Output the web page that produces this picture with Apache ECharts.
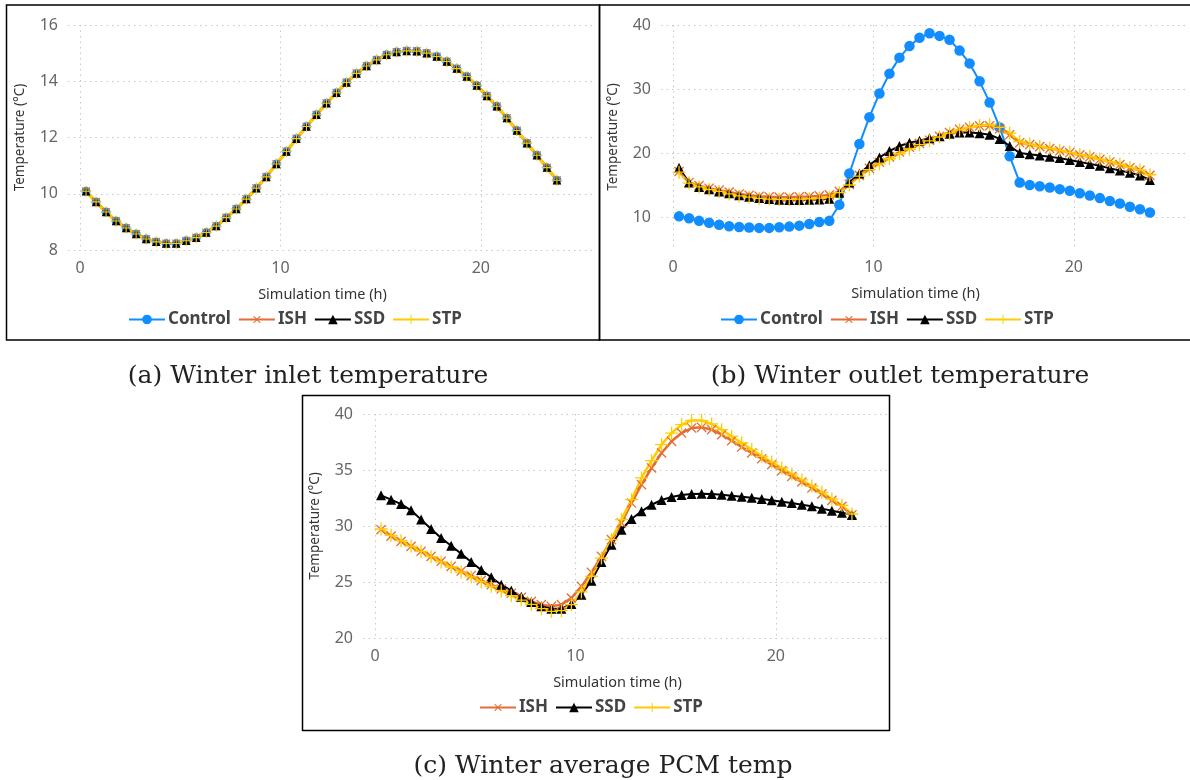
<!DOCTYPE html>
<html>
<head>
<meta charset="utf-8">
<title>Winter temperatures</title>
<script src="https://cdn.jsdelivr.net/npm/echarts@6/dist/echarts.min.js"></script>
<style>
  html, body { margin: 0; padding: 0; background: #fff; }
  #chart { width: 1190px; height: 780px; }
</style>
</head>
<body>
<div id="chart"></div>
<script>
// Simulation time stamps (h), one sample every half hour
const hours = [0.3, 0.8, 1.3, 1.8, 2.3, 2.8, 3.3, 3.8, 4.3, 4.8, 5.3, 5.8,
  6.3, 6.8, 7.3, 7.8, 8.3, 8.8, 9.3, 9.8, 10.3, 10.8, 11.3, 11.8,
  12.3, 12.8, 13.3, 13.8, 14.3, 14.8, 15.3, 15.8, 16.3, 16.8, 17.3, 17.8,
  18.3, 18.8, 19.3, 19.8, 20.3, 20.8, 21.3, 21.8, 22.3, 22.8, 23.3, 23.8];

// (a) inlet temperature — identical for all four cases
const inletTemp = [10.09, 9.71, 9.35, 9.03, 8.78, 8.57, 8.39, 8.29, 8.23, 8.23, 8.33, 8.44,
  8.62, 8.85, 9.15, 9.46, 9.81, 10.20, 10.60, 11.06, 11.50, 11.96, 12.39, 12.81,
  13.22, 13.59, 13.96, 14.28, 14.54, 14.76, 14.94, 15.04, 15.08, 15.07, 15.00, 14.88,
  14.70, 14.45, 14.17, 13.85, 13.48, 13.11, 12.69, 12.25, 11.80, 11.37, 10.93, 10.48];

// (b) outlet temperature
const outletControl = [10.1, 9.8, 9.4, 9.1, 8.8, 8.55, 8.45, 8.35, 8.3, 8.3, 8.4, 8.5,
  8.65, 8.9, 9.2, 9.4, 11.9, 16.8, 21.4, 25.6, 29.3, 32.4, 34.9, 36.7,
  38.0, 38.7, 38.3, 37.7, 36.0, 34.0, 31.2, 27.9, 24.0, 19.5, 15.4, 15.0,
  14.8, 14.6, 14.35, 14.1, 13.7, 13.35, 12.95, 12.5, 12.1, 11.6, 11.2, 10.7];
const outletISH = [17.1, 15.4, 14.9, 14.5, 14.2, 13.9, 13.6, 13.4, 13.25, 13.15, 13.1, 13.1,
  13.15, 13.2, 13.3, 13.45, 14.0, 15.1, 16.5, 17.6, 18.55, 19.4, 20.15, 20.9,
  21.5, 22.0, 22.6, 23.2, 23.7, 24.0, 24.25, 24.25, 23.8, 22.85, 21.6, 21.3,
  21.0, 20.7, 20.35, 20.05, 19.7, 19.4, 19.0, 18.6, 18.2, 17.7, 17.3, 16.5];
const outletSSD = [17.7, 15.4, 14.7, 14.35, 14.0, 13.7, 13.4, 13.15, 12.95, 12.8, 12.7, 12.65,
  12.65, 12.7, 12.75, 12.85, 13.8, 15.4, 16.8, 18.1, 19.3, 20.3, 21.1, 21.6,
  21.9, 22.3, 22.6, 23.0, 23.2, 23.2, 23.1, 22.85, 22.2, 21.1, 20.0, 19.8,
  19.6, 19.4, 19.2, 18.9, 18.6, 18.3, 18.0, 17.6, 17.25, 16.9, 16.5, 15.8];
const outletSTP = [17.0, 15.3, 14.7, 14.3, 14.0, 13.6, 13.3, 13.1, 12.9, 12.8, 12.75, 12.75,
  12.8, 12.85, 12.95, 13.1, 13.8, 15.0, 16.4, 17.4, 18.3, 19.1, 19.9, 20.6,
  21.3, 21.9, 22.5, 23.1, 23.6, 24.0, 24.3, 24.4, 24.0, 23.1, 21.8, 21.4,
  21.05, 20.75, 20.4, 20.1, 19.75, 19.45, 19.05, 18.65, 18.25, 17.75, 17.35, 16.6];

// (c) average PCM temperature
const pcmISH = [29.67, 29.1, 28.63, 28.18, 27.74, 27.29, 26.85, 26.4, 25.98, 25.57, 25.15, 24.76,
  24.38, 23.99, 23.63, 23.27, 22.98, 22.83, 22.98, 23.57, 24.61, 25.86, 27.29, 28.78,
  30.27, 32.05, 33.69, 35.18, 36.52, 37.56, 38.3, 38.75, 38.81, 38.6, 38.15, 37.62,
  37.05, 36.52, 36.01, 35.48, 34.94, 34.43, 33.93, 33.39, 32.86, 32.29, 31.76, 31.01];
const pcmSSD = [32.74, 32.35, 31.96, 31.4, 30.57, 29.73, 28.93, 28.24, 27.53, 26.79, 26.07, 25.42,
  24.76, 24.23, 23.69, 23.21, 22.83, 22.62, 22.62, 23.04, 23.87, 25.12, 26.79, 28.33,
  29.67, 30.63, 31.31, 31.9, 32.32, 32.59, 32.77, 32.86, 32.89, 32.86, 32.8, 32.71,
  32.62, 32.53, 32.41, 32.29, 32.17, 32.05, 31.9, 31.76, 31.55, 31.37, 31.19, 30.98];
const pcmSTP = [29.73, 29.17, 28.69, 28.21, 27.74, 27.26, 26.79, 26.34, 25.89, 25.45, 25.03, 24.61,
  24.2, 23.78, 23.39, 23.0, 22.62, 22.38, 22.44, 22.98, 24.11, 25.51, 27.14, 28.78,
  30.57, 32.35, 34.29, 35.83, 37.26, 38.3, 39.05, 39.43, 39.43, 39.11, 38.6, 38.0,
  37.41, 36.82, 36.22, 35.71, 35.18, 34.64, 34.11, 33.57, 33.01, 32.41, 31.85, 31.07];

// Axis tick values
const xTicks = [0, 10, 20];
const yTicksA = [8, 10, 12, 14, 16];
const yTicksB = [10, 20, 30, 40];
const yTicksC = [20, 25, 30, 35, 40];

const captions = ['(a) Winter inlet temperature', '(b) Winter outlet temperature', '(c) Winter average PCM temp'];

const PLUS = 'path://M9,0H11V9H20V11H11V20H9V11H0V9H9Z';
const styles = {
  Control: { color: '#118DFF', symbol: 'circle', size: 10.5, rotate: 0 },
  ISH: { color: '#E66C37', symbol: PLUS, size: 13, rotate: 45 },
  SSD: { color: '#000000', symbol: 'triangle', size: 10, rotate: 0 },
  STP: { color: '#FFCC00', symbol: PLUS, size: 13, rotate: 0 }
};

const labelFont = 'Noto Sans';

function makeSeries(name, values, idx, lineWidth, scale) {
  const s = styles[name];
  return {
    name: name,
    type: 'line',
    xAxisIndex: idx,
    yAxisIndex: idx,
    data: hours.map((h, i) => [h, values[i]]),
    symbol: s.symbol,
    symbolSize: s.size * scale,
    symbolRotate: s.rotate,
    showAllSymbol: true,
    itemStyle: { color: s.color, borderWidth: 0 },
    lineStyle: { color: s.color, width: lineWidth },
    emphasis: { disabled: true },
    animation: false,
    z: 2
  };
}

const gridDefs = [
  { left: 68, top: 25, width: 525, height: 225, ymin: 8, ymax: 16, yticks: yTicksA },
  { left: 661, top: 25, width: 525, height: 224, ymin: 5, ymax: 40, yticks: yTicksB },
  { left: 363, top: 414, width: 525, height: 224, ymin: 20, ymax: 40, yticks: yTicksC }
];

const splitStyle = { show: true, lineStyle: { color: '#c8c8c8', width: 1, type: [1.5, 4] } };

const legendDefs = [
  { data: ['Control', 'ISH', 'SSD', 'STP'], left: 123, top: 306 },
  { data: ['Control', 'ISH', 'SSD', 'STP'], left: 715, top: 306 },
  { data: ['ISH', 'SSD', 'STP'], left: 474, top: 694 }
];

const option = {
  backgroundColor: '#ffffff',
  animation: false,
  grid: gridDefs.map(g => ({ left: g.left, top: g.top, width: g.width, height: g.height, containLabel: false })),
  xAxis: gridDefs.map((g, i) => ({
    type: 'value', gridIndex: i, min: -0.6, max: 25.6,
    axisLine: { show: false },
    axisTick: { show: false, customValues: xTicks },
    axisLabel: { customValues: xTicks, color: '#666', fontSize: 16, fontFamily: labelFont, margin: 10 },
    splitLine: splitStyle,
    name: 'Simulation time (h)', nameLocation: 'middle', nameGap: 37,
    nameTextStyle: { color: '#333', fontSize: 14.5, fontFamily: labelFont, padding: [0, 16, 0, 0] }
  })),
  yAxis: gridDefs.map((g, i) => ({
    type: 'value', gridIndex: i, min: g.ymin, max: g.ymax,
    axisLine: { show: false },
    axisTick: { show: false, customValues: g.yticks },
    axisLabel: { customValues: g.yticks, color: '#666', fontSize: 16, fontFamily: labelFont, margin: 10 },
    splitLine: splitStyle,
    name: 'Temperature (°C)', nameLocation: 'middle', nameGap: 41,
    nameTextStyle: { color: '#333', fontSize: 13.5, fontFamily: labelFont }
  })),
  legend: legendDefs.map(l => ({
    data: l.data, top: l.top, left: l.left,
    orient: 'horizontal', itemWidth: 36, itemHeight: 12, itemGap: 7,
    selectedMode: false,
    textStyle: { color: '#444', fontSize: 17, fontWeight: 'bold', fontFamily: labelFont, padding: [0, 0, 0, -2] }
  })),
  title: [
    { text: captions[0], left: 303, top: 359, textAlign: 'center' },
    { text: captions[1], left: 895, top: 359, textAlign: 'center' },
    { text: captions[2], left: 598, top: 749, textAlign: 'center' }
  ].map(t => Object.assign(t, {
    textStyle: { fontFamily: 'DejaVu Serif', fontWeight: 'normal', fontSize: 25, color: '#222' }
  })),
  graphic: [
    { type: 'rect', shape: { x: 6.5, y: 5, width: 593, height: 335 }, style: { fill: 'none', stroke: '#000', lineWidth: 1.5 }, z: 10 },
    { type: 'rect', shape: { x: 599.5, y: 5, width: 595, height: 335 }, style: { fill: 'none', stroke: '#000', lineWidth: 1.5 }, z: 10 },
    { type: 'rect', shape: { x: 302.5, y: 395.5, width: 587, height: 335 }, style: { fill: 'none', stroke: '#000', lineWidth: 1.5 }, z: 10 }
  ],
  series: [
    makeSeries('Control', inletTemp, 0, 2, 0.85),
    makeSeries('ISH', inletTemp, 0, 3, 0.85),
    makeSeries('SSD', inletTemp, 0, 2, 0.85),
    makeSeries('STP', inletTemp, 0, 3, 0.85),
    makeSeries('Control', outletControl, 1, 2, 1),
    makeSeries('ISH', outletISH, 1, 2.5, 1),
    makeSeries('SSD', outletSSD, 1, 2, 1),
    makeSeries('STP', outletSTP, 1, 2.5, 1),
    makeSeries('ISH', pcmISH, 2, 2.5, 1),
    makeSeries('SSD', pcmSSD, 2, 2, 1),
    makeSeries('STP', pcmSTP, 2, 2.5, 1)
  ]
};

const chart = echarts.init(document.getElementById('chart'), null, { renderer: 'canvas' });
chart.setOption(option);
</script>
</body>
</html>
